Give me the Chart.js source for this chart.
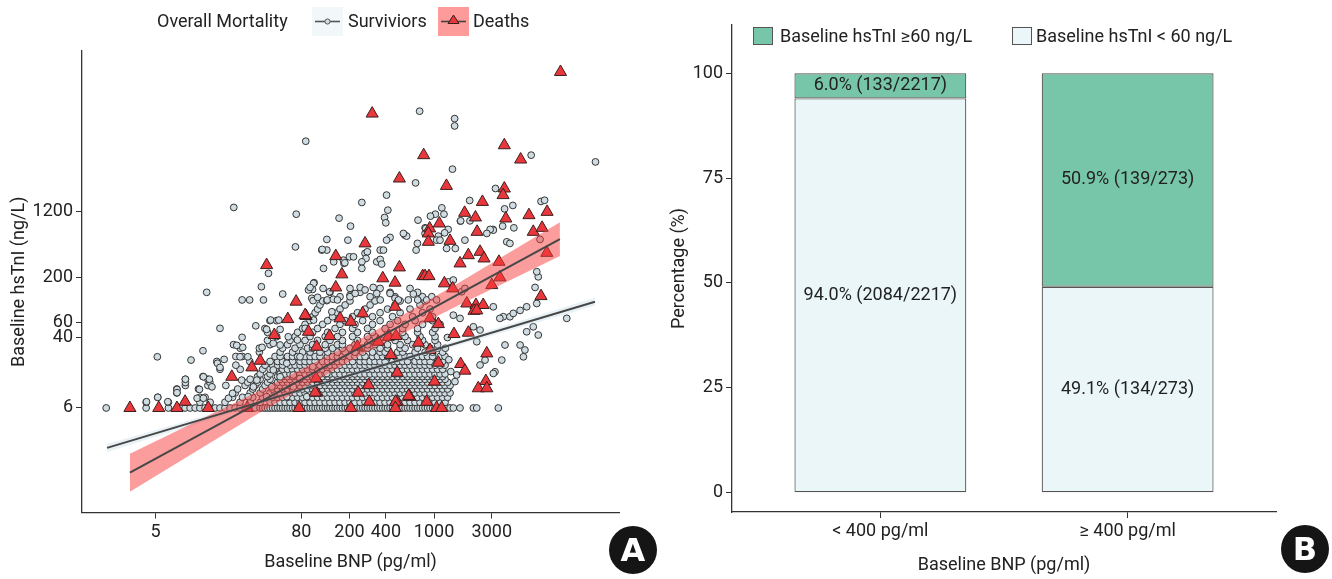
<!DOCTYPE html>
<html><head><meta charset="utf-8">
<script src="https://cdn.jsdelivr.net/npm/chart.js@4.4.1/dist/chart.umd.min.js"></script>
<style>
html,body{margin:0;padding:0;background:#fff;width:1332px;height:579px;overflow:hidden;font-family:Roboto,"Noto Sans",sans-serif;color:#222}
canvas{position:absolute;top:0}
#c1{left:0}
#c2{left:660px}
.lg{position:absolute;font-size:18px;line-height:22px;height:22px;white-space:nowrap;color:#222}
.key{position:absolute}
.badge{position:absolute;width:48px;height:48px;border-radius:50%;background:#151515;color:#fff;font:bold 32px/48px "DejaVu Sans",sans-serif;text-align:center}
</style></head><body>
<canvas id="c1" width="660" height="579"></canvas>
<canvas id="c2" width="672" height="579"></canvas>

<div class="lg" style="left:157px;top:10px">Overall Mortality</div>
<svg class="key" style="left:312px;top:7px" width="31" height="29"><rect x="0" y="0" width="31" height="29" fill="#f2f8fa"/><line x1="3" y1="14.5" x2="28" y2="14.5" stroke="#555" stroke-width="1.6"/><circle cx="15.5" cy="14.5" r="2.6" fill="#cfdce2" stroke="#555" stroke-width="1"/></svg>
<div class="lg" style="left:348px;top:10px">Surviviors</div>
<svg class="key" style="left:438px;top:7px" width="31" height="29"><rect x="0" y="0" width="31" height="29" fill="#fd9b9b"/><line x1="3" y1="14.5" x2="28" y2="14.5" stroke="#444" stroke-width="1.6"/><polygon points="15.5,8 21,16.5 10,16.5" fill="#e8363a" stroke="#3a2020" stroke-width="1"/></svg>
<div class="lg" style="left:473px;top:10px">Deaths</div>

<div class="key" style="left:753px;top:27px;width:18px;height:16px;background:#77c6a9;border:1px solid #555"></div>
<div class="lg" style="left:780px;top:25px">Baseline hsTnI ≥60 ng/L</div>
<div class="key" style="left:1012px;top:27px;width:18px;height:16px;background:#eaf6f8;border:1px solid #555"></div>
<div class="lg" style="left:1036px;top:25px">Baseline hsTnI &lt; 60 ng/L</div>

<div class="badge" style="left:609px;top:526px">A</div>
<div class="badge" style="left:1281px;top:525px">B</div>

<script>
// ---------- Panel A data (BNP pg/ml, hsTnI ng/L) ----------
const xTicksA = [5, 80, 200, 400, 1000, 3000];
const yTicksA = [6, 40, 60, 200, 1200];

// survivors sitting on the hsTnI = 6 floor (BNP values along that row)
const survivorsFloorBNP = [1.95,4.17,6.37,8.75,9.63,10.6,11.6,12.8,14.1,15.5,17.0,18.7,20.6,22.7,24.9,27.4,30.2,33.2,36.5,38.3,40.1,42.1,44.1,46.3,48.5,50.9,53.4,56.0,58.7,61.5,64.5,67.7,71.0,74.5,78.1,81.9,85.9,90.1,94.5,99.1,104,109,114,120,126,132,138,145,152,159,167,175,184,193,202,212,222,233,245,257,269,282,296,310,325,341,358,376,394,413,433,454,476,500,524,550,576,604,633,665,697,731,766,804,843,884,927,973,1019,1070,1121,1177,1233,1274,1356,1444,1640,2113,2254,3400];

// survivors in the dense low band: [hsTnI, BNP values]
const survivorsRows = [
 [7,[4.17,6.37,8.75,11.6,14.1,18.7,24.9,30.2,36.5,44.1,48.5,53.4,58.7,64.5,71.0,78.1,85.9,94.5,104,114,126,138,152,167,184,202,222,245,269,296,325,358,394,433,476,524,576,633,697,766,843,927,1019,1121,1233]],
 [8,[5.2,11.6,12.8,21.6,26.1,31.7,38.3,46.3,50.9,56.0,61.5,67.7,74.5,81.9,90.1,99.1,109,120,132,145,159,175,193,212,233,257,282,310,341,376,413,454,500,550,604,665,731,804,884,973,1070,1177,1294]],
 [9,[7.47,22.7,30.2,36.5,44.1,48.5,53.4,58.7,64.5,71.0,78.1,85.9,94.5,104,114,126,138,152,167,184,202,222,245,269,296,325,358,394,433,476,524,576,633,697,766,843,927,1019,1121,1233,1356]],
 [10,[7.47,11.3,23.8,31.7,38.3,46.3,50.9,56.0,61.5,67.7,74.5,81.9,90.1,99.1,109,120,132,145,159,175,193,212,233,257,282,310,341,376,413,454,500,550,604,665,731,804,884,973,1070,1177,1294]],
 [11,[8.8,13.5,19,27.4,33.2,40.1,48.5,53.4,58.7,64.5,71.0,78.1,85.9,94.5,104,114,126,138,152,167,184,202,222,245,269,296,325,358,394,433,476,524,576,633,697,766,843,927,1019,1121,1233,1356]],
 [12,[14,28.8,34.8,42.1,50.9,56.0,61.5,67.7,74.5,81.9,90.1,99.1,109,120,132,145,159,175,193,212,233,257,282,310,341,376,413,454,500,550,604,665,731,804,884,973,1070,1177,1294]],
 [13,[8.8,13.5,30.2,36.5,44.1,53.4,58.7,64.5,71.0,78.1,85.9,94.5,104,114,126,138,152,167,184,202,222,245,269,296,325,358,394,433,476,524,576,633,697,766,843,927,1019,1121,1233]],
 [14,[12.3,34.8,42.1,50.9,56.0,61.5,67.7,74.5,81.9,90.1,99.1,109,120,132,145,159,175,193,212,233,257,282,310,341,376,413,454,500,550,604,665,731,804,884,973,1070,1177]],
 [15,[36.5,44.1,53.4,58.7,64.5,71.0,78.1,85.9,94.5,104,114,126,138,152,167,184,202,222,245,269,296,325,358,394,433,476,524,576,633,697,766,843,927,1019,1121,1233]],
 [17,[17,25,38.3,44.1,48.5,56.0,61.5,67.7,74.5,81.9,90.1,99.1,109,120,132,145,159,175,193,212,233,257,282,310,341,376,413,454,500,550,604,665,731,804,884,973,1070,1177]],
 [19,[23,40.1,46.3,50.9,56.0,64.5,71.0,78.1,85.9,94.5,104,114,126,138,152,167,184,202,222,245,269,296,325,358,394,433,476,524,576,633,697,766,843,927,1019,1121,1233]],
 [21,[16,30,44.1,50.9,56.0,61.5,67.7,78.1,85.9,94.5,104,120,132,145,159,175,193,212,245,269,296,325,358,394,454,500,550,604,697,766,843,927,1070,1177]],
 [24,[23,26,48.5,53.4,61.5,67.7,74.5,85.9,94.5,104,114,132,145,159,175,202,222,245,269,310,341,376,413,476,524,576,633,731,804,884,973,1121,1233]],
 [27,[36,53.4,67.7,81.9,94.5,114,132,159,184,222,257,310,358,394,500,550,697,843,973,1177]],
 [30,[25,36,56.0,71.0,90.1,99.1,126,145,175,202,257,282,358,413,524,576,731,927,1070]],
 [33,[22,44,61.5,78.1,99.1,126,159,175,222,282,325,413,524,665,843,1070]],
 [37,[42,64.5,85.9,109,138,175,233,296,376,476,604,804,1019]],
 [41,[50,71.0,94.5,126,159,212,282,325,433,576,766,1019]],
 [46,[42,74.5,99.1,132,175,233,310,413,550,731,973]],
 [51,[40,81.9,109,152,212,282,394,550,731,1019]],
 [57,[85.9,120,167,222,310,433,576,804,1121]],
 [63,[44,50,94.5,132,184,257,358,500,697,973]],
 [70,[99.1,145,212,310,454,665,973]],
 [78,[104,159,233,358,524,804]],
 [86,[109,167,269,413,633,927]],
 [96,[114,184,296,476,766]],
 [107,[120,202,325,524,843]],
 [120,[167,296,476,804]],
 [135,[138,245,433,731]],
 [150,[202,358,633]]
];

// scattered survivors [BNP, hsTnI]
const survivorsScattered = [
 [21600,4520],[760,17700],[1480,14500],[1480,11900],[87,7890],[6350,5420],[1420,3720],[704,2570],[405,1850],[3220,2210],
 [1970,1600],[7660,1560],[8200,1610],[4480,1400],[3830,1277],[253,1517],[415,1233],[22.1,1327],[72.6,1107],[164,995],
 [204,802],[390,1013],[399,877],[737,943],[1160,1312],[1025,1107],[1208,1107],[934,1050],[1652,918],[3070,734],
 [4570,766],[843,766],[1309,734],[1223,670],[572,630],
 [5.16,23.8],[13.2,135],[17,51.2],[9.8,21.8],[12.3,28],[25.9,40.2],[25.9,110],[29.9,110],[37.4,157],[38.9,110],
 [42.8,225],[71.5,459],[56.1,129],[33.6,54.8],[37.9,30.7],[26.2,30.7],[23.4,32.4],[28.9,23.8],[24.9,23.8],[18.4,22.2],
 [16.2,20],[17,17.9],[12.4,13.9],[13.9,13],[14.6,10.6],[11.5,9.9],[8.8,11.9],[8.8,13],[7.5,9.9],[7.5,9.06],
 [6.3,7.1],[4.2,7.1],[5.2,8],[11,7.8],[12.4,7.8],[20,7.8],[21.6,8.9],[25.7,12.7],[34.3,12.7],[44.6,64],
 [52.1,64],[41.3,49.8],[53.4,49.8],[46.9,34.2],[53.4,32.7],[62.4,40.8],[74.2,37.4],[86,51.2],[101,64],[99,146],
 [122,257],[130,561],[194,550],[118,421],[91.6,144],[102,175],[130,108],[148,307],[180,294],[143,80],
 [202,125],[45.6,10.6],[53.4,13.9],[68.6,14.6],[68.6,10.6],[32.1,10.6],[29.1,8.13],[41.3,8.13],[60.6,8.13],[88.7,8.13],
 [78,13.3],[99.5,18.2],[130,15.2],[46.9,16.7],[60.6,20],[78,23.8],
 [1980,925],[1660,925],[3690,802],[3090,720],[3990,526],[4240,504],[7520,561],[2910,734],[1800,550],[2730,659],
 [1500,440],[1270,440],[1085,613],[1050,550],[1120,550],[854,754],[843,659],[729,504],[711,421],[594,613],
 [558,659],[433,592],[405,550],[269,385],[281,402],[274,336],[359,421],[382,421],[336,307],[359,327],
 [369,289],[253,307],[253,257],[200,351],[216,351],[178,321],[183,299],[130,421],[119,429],[101,172],
 [94.4,154],[121,150],[137,137],[97.5,115],[100,108],[109,118],[131,110],[147,112],[159,110],[202,120],
 [223,131],[245,154],[269,144],[314,154],[336,131],[359,110],[433,131],[476,115],[507,110],[613,110],
 [674,129],[733,110],[870,110],[958,120],[1050,110],[1313,179],[1443,188],[1690,137],[1800,150],[1443,73],
 [1640,67],[2115,53.4],[2400,48.9],[3740,70],[4240,70],[4520,76.6],[3090,91.5],[3500,67],[5145,83],[5830,91.5],
 [5830,46.7],[6610,53.4],[7065,100],[6840,154],[7270,205],[7065,235],[5145,32.7],[5640,28.6],[5480,23.8],[7270,42.8],
 [12500,67],[3630,21.8],[3860,32.7],[3190,15.9],[2400,19.1],[2640,21.8],[1490,12.2],[1540,14.6],[2255,35.7],[3090,15.2],
 [1240,30],[1325,22],[1375,16],[1290,40]
];

// deaths [BNP, hsTnI]
const deathsPoints = [
 [11100,50900],[308,16600],[821,5420],[517,2890],[1266,2370],[3810,7080],[5200,4820],[3810,2210],[3720,1850],[2510,1540],
 [1790,1148],[2200,1013],[3920,986],[6090,1078],[8600,1178],[1105,862],[920,754],[2270,688],[6610,688],[7820,766],
 [41.3,281],[72.4,105],[61.8,65.7],[87.6,71.3],[47.8,42.8],[91.6,46.7],[36.5,21.4],[106,13.3],[107,9.06],[8.75,7.1],
 [3.06,6],[5.3,6],[7.5,6],[154,358],[173,219],[154,154],[167,67],[137,41.6],[107,31.2],[21.3,13.9],[31.2,17.9],[205,61],
 [897,659],[897,526],[1355,540],[8550,391],[269,504],[517,264],[377,197],[476,175],[806,209],[843,209],[908,209],
 [1217,172],[1426,150],[1640,294],[1920,367],[2400,402],[2590,336],[3440,307],[3500,202],[3000,164],[7660,122],
 [1865,100],[2220,96],[2550,96],[2140,82],[2255,83],[86,73.1],[476,91.5],[257,76.6],[346,35.7],[419,40.8],
 [926,67],[1085,57.4],[1462,43.9],[1920,45.5],[485,41.6],[232,31.2],[743,34.8],[926,28.6],[439,25],[2730,26.1],
 [1660,19.6],[1800,16.4],[1085,20.3],[496,15.5],[287,11.1],[236,9.06],[632,8.1],[496,7.1],[870,7.1],[292,7.1],
 [2680,12.4],[2320,10.2],[2730,10.2],[1050,6],[1157,6],[104,9.1],[481,7.1],[616,8.3],[1008,12.2],
 [13.6,6],[28.6,6],[76.7,6],[205,6],[479,6]
];

// fitted lines and confidence bands [BNP, hsTnI]
const survivorsFit = [[1.98,2.05],[21400,105]];
const survivorsBandUpper = [[1.98,2.28],[133,12.7],[21400,117]];
const survivorsBandLower = [[1.98,1.84],[133,11.7],[21400,94]];
const deathsFit = [[3.06,1.05],[10980,565]];
const deathsBandUpper = [[3.06,1.75],[36.4,9.6],[269,41],[1579,172],[10980,893]];
const deathsBandLower = [[3.06,0.63],[36.4,5.3],[269,26.6],[1579,95],[10980,358]];

// ---------- Panel B data ----------
const bnpGroups = ['< 400 pg/ml', '≥ 400 pg/ml'];
const pctHigh = [6.0, 50.9];
const pctLow = [94.0, 49.1];
const nHigh = [133, 139];
const nLow = [2084, 134];
const nTotal = [2217, 273];
const yTicksB = [0, 25, 50, 75, 100];

const toXY = arr => arr.map(p => ({x: p[0], y: p[1]}));

function draw() {
  Chart.defaults.font.family = 'Roboto';
  Chart.defaults.font.size = 18;
  Chart.defaults.color = '#222';

  const survivors = [];
  survivorsFloorBNP.forEach(b => survivors.push({x: b, y: 6}));
  survivorsRows.forEach(r => r[1].forEach(b => survivors.push({x: b, y: r[0]})));
  survivorsScattered.forEach(p => survivors.push({x: p[0], y: p[1]}));

  const mkGrid = () => ({display: true, drawOnChartArea: false, drawTicks: true, tickLength: 6, color: '#333', lineWidth: 1, offset: false});
  const mkBorder = () => ({display: true, color: '#333', width: 1.3});
  const bandStyle = {showLine: true, pointRadius: 0, borderWidth: 0, borderColor: 'rgba(0,0,0,0)', tension: 0};

  new Chart(document.getElementById('c1'), {
    type: 'scatter',
    data: {datasets: [
      {label: 'Surviviors', data: survivors, pointStyle: 'circle', pointRadius: 3.4, backgroundColor: '#cfdce2', borderColor: '#333', borderWidth: 1, order: 6},
      {label: 'Deaths', data: toXY(deathsPoints), pointStyle: 'triangle', pointRadius: 7, backgroundColor: '#ea373b', borderColor: '#3a2020', borderWidth: 1, order: 5},
      Object.assign({label: 'sb+', data: toXY(survivorsBandUpper), fill: '+1', backgroundColor: 'rgba(190,215,228,0.35)', order: 4}, bandStyle),
      Object.assign({label: 'sb-', data: toXY(survivorsBandLower), fill: false, order: 4}, bandStyle),
      Object.assign({label: 'db+', data: toXY(deathsBandUpper), fill: '+1', backgroundColor: 'rgba(248,60,60,0.5)', order: 3}, bandStyle),
      Object.assign({label: 'db-', data: toXY(deathsBandLower), fill: false, order: 3}, bandStyle),
      {label: 'sfit', data: toXY(survivorsFit), showLine: true, pointRadius: 0, borderColor: '#474747', borderWidth: 2, fill: false, order: 1},
      {label: 'dfit', data: toXY(deathsFit), showLine: true, pointRadius: 0, borderColor: '#474747', borderWidth: 2, fill: false, order: 1}
    ]},
    options: {
      responsive: false, animation: false, devicePixelRatio: 1,
      layout: {padding: {left: 0, right: 41, top: 51, bottom: 0}},
      plugins: {legend: {display: false}, tooltip: {enabled: false}},
      scales: {
        x: {type: 'logarithmic', min: 1.23, max: 33800, grid: mkGrid(), border: mkBorder(),
          afterBuildTicks: s => { s.ticks = xTicksA.map(v => ({value: v})); },
          afterFit: s => { s.height = 66.5; },
          ticks: {callback: v => String(v), autoSkip: false, maxRotation: 0, padding: 3, color: '#222'},
          title: {display: true, text: 'Baseline BNP (pg/ml)', color: '#222', padding: {top: 0, bottom: 6}}
        },
        y: {type: 'logarithmic', min: 0.36, max: 89500, grid: mkGrid(), border: mkBorder(),
          afterBuildTicks: s => { s.ticks = yTicksA.map(v => ({value: v})); },
          afterFit: s => { s.width = 82; },
          ticks: {callback: v => String(v), autoSkip: false, padding: 3, color: '#222'},
          title: {display: true, text: 'Baseline hsTnI (ng/L)', color: '#222', padding: {top: 9, bottom: 0}}
        }
      }
    }
  });

  const barLabels = {
    id: 'barLabels',
    afterDatasetsDraw(chart) {
      const ctx = chart.ctx;
      ctx.save();
      ctx.font = '18px Roboto';
      ctx.fillStyle = '#222';
      ctx.textAlign = 'center';
      ctx.textBaseline = 'middle';
      chart.data.datasets.forEach((ds, di) => {
        const meta = chart.getDatasetMeta(di);
        meta.data.forEach((el, i) => {
          const pct = di === 0 ? pctLow[i] : pctHigh[i];
          const n = di === 0 ? nLow[i] : nHigh[i];
          const txt = pct.toFixed(1) + '% (' + n + '/' + nTotal[i] + ')';
          ctx.fillText(txt, el.x, (el.y + el.base) / 2);
        });
      });
      ctx.restore();
    }
  };

  new Chart(document.getElementById('c2'), {
    type: 'bar',
    data: {datasets: [
      {label: 'Baseline hsTnI < 60 ng/L', data: pctLow.map((v, i) => ({x: i + 1, y: v})), backgroundColor: '#eaf6f8', borderColor: '#555', borderWidth: 1.2, borderSkipped: false, barPercentage: 0.695, categoryPercentage: 1},
      {label: 'Baseline hsTnI ≥60 ng/L', data: pctHigh.map((v, i) => ({x: i + 1, y: v})), backgroundColor: '#77c6a9', borderColor: '#555', borderWidth: 1.2, borderSkipped: false, barPercentage: 0.695, categoryPercentage: 1}
    ]},
    options: {
      responsive: false, animation: false, devicePixelRatio: 1,
      layout: {padding: {left: 0, right: 56, top: 25, bottom: 0}},
      plugins: {legend: {display: false}, tooltip: {enabled: false}},
      scales: {
        x: {type: 'linear', min: 0.4, max: 2.6, stacked: true, offset: false, grid: mkGrid(), border: mkBorder(),
          afterBuildTicks: s => { s.ticks = [{value: 1}, {value: 2}]; },
          afterFit: s => { s.height = 67; },
          ticks: {callback: v => bnpGroups[Math.round(v) - 1], autoSkip: false, maxRotation: 0, padding: 3, color: '#222'},
          title: {display: true, text: 'Baseline BNP (pg/ml)', color: '#222', padding: {top: 0, bottom: 3}}
        },
        y: {type: 'linear', min: -4.6, max: 111.5, stacked: true, grid: mkGrid(), border: mkBorder(),
          afterBuildTicks: s => { s.ticks = yTicksB.map(v => ({value: v})); },
          afterFit: s => { s.width = 72; },
          ticks: {callback: v => String(v), autoSkip: false, padding: 3, color: '#222'},
          title: {display: true, text: 'Percentage (%)', color: '#222', padding: {top: 9, bottom: 0}}
        }
      }
    },
    plugins: [barLabels]
  });
}

if (document.fonts && document.fonts.load) {
  document.fonts.load('18px Roboto').then(draw, draw);
} else { draw(); }
</script>
</body></html>
